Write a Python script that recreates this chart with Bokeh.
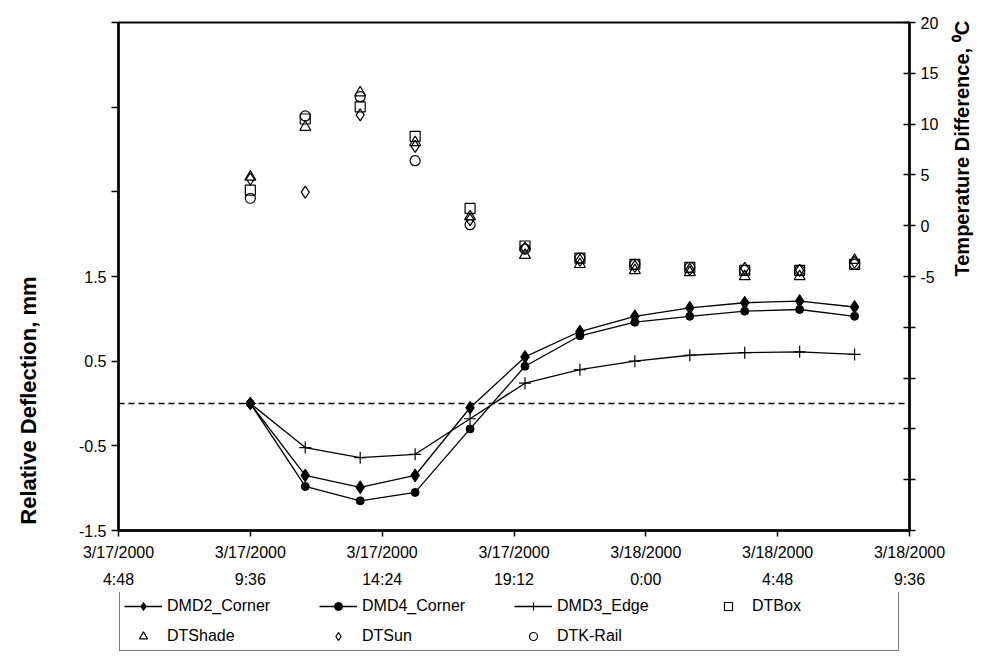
import math
import pandas as pd
from bokeh.plotting import figure
from bokeh.layouts import column
from bokeh.models import (Range1d, LinearAxis, FixedTicker, Span, Legend, LegendItem)
from bokeh.embed import file_html
from bokeh.resources import INLINE

# ---------------- data ----------------
times = ["3/17/2000 9:36", "3/17/2000 11:36", "3/17/2000 13:36", "3/17/2000 15:36",
         "3/17/2000 17:36", "3/17/2000 19:36", "3/17/2000 21:36", "3/17/2000 23:36",
         "3/18/2000 1:36", "3/18/2000 3:36", "3/18/2000 5:36", "3/18/2000 7:36"]

dmd2_corner = [0.0, -0.85, -0.99, -0.85, -0.05, 0.55, 0.85, 1.03, 1.13, 1.19, 1.21, 1.14]
dmd4_corner = [0.0, -0.98, -1.15, -1.05, -0.30, 0.44, 0.80, 0.96, 1.03, 1.09, 1.11, 1.03]
dmd3_edge = [0.0, -0.52, -0.64, -0.60, -0.18, 0.24, 0.40, 0.50, 0.57, 0.60, 0.61, 0.58]

dt_box = [3.5, 10.5, 11.7, 8.8, 1.7, -2.0, -3.2, -3.8, -4.1, -4.4, -4.4, -3.8]
dt_shade = [4.8, 9.7, 13.1, 8.2, 0.9, -2.9, -3.8, -4.4, -4.6, -5.0, -5.0, -3.4]
dt_sun = [4.6, 3.3, 10.9, 7.8, 0.6, -2.2, -3.4, -4.0, -4.3, -4.2, -4.4, -3.6]
dtk_rail = [2.7, 10.8, 12.7, 6.4, 0.1, -2.3, -3.2, -3.8, -4.1, -4.4, -4.4, -3.8]

series_names = ["DMD2_Corner", "DMD4_Corner", "DMD3_Edge", "DTBox",
                "DTShade", "DTSun", "DTK-Rail"]

x_tick_labels = ["3/17/2000\n4:48", "3/17/2000\n9:36", "3/17/2000\n14:24",
                 "3/17/2000\n19:12", "3/18/2000\n0:00", "3/18/2000\n4:48",
                 "3/18/2000\n9:36"]
x_tick_times = ["3/17/2000 4:48", "3/17/2000 9:36", "3/17/2000 14:24",
                "3/17/2000 19:12", "3/18/2000 0:00", "3/18/2000 4:48",
                "3/18/2000 9:36"]

left_ticks = [-1.5, -0.5, 0.5, 1.5, 2.5, 3.5, 4.5]
left_labels = ["-1.5", "-0.5", "0.5", "1.5", "", "", ""]
right_ticks = [-30, -25, -20, -15, -10, -5, 0, 5, 10, 15, 20]
right_labels = ["", "", "", "", "", "-5", "0", "5", "10", "15", "20"]

left_title = "Relative Deflection, mm"
right_title = "Temperature Difference, \u2070C"

# ---------------- helpers ----------------
base = pd.Timestamp("2000-03-17 00:00")


def minutes(s):
    return int((pd.to_datetime(s, format="%m/%d/%Y %H:%M") - base).total_seconds() // 60)


x = [minutes(t) for t in times]
xt = [minutes(t) for t in x_tick_times]

FONT = "Liberation Sans"

p = figure(width=998, height=592, output_backend="svg", toolbar_location=None,
           x_range=Range1d(xt[0], xt[-1]), y_range=Range1d(-1.5, 4.5),
           min_border_left=114, min_border_right=89, min_border_top=22,
           min_border_bottom=62)
p.extra_y_ranges = {"temp": Range1d(-30, 20)}

p.grid.visible = False
p.outline_line_color = "black"
p.outline_line_width = 2
p.background_fill_color = "white"
p.border_fill_color = "white"


def style_ticks(ax):
    ax.minor_tick_line_color = None
    ax.axis_line_width = 2.5
    ax.major_tick_line_width = 1.5
    ax.major_label_text_font = FONT
    ax.major_label_text_font_size = "16px"
    ax.major_label_text_color = "black"


def title_axis(text, y_range_name, bounds, standoff, size):
    ax = LinearAxis(y_range_name=y_range_name, ticker=FixedTicker(ticks=[]),
                    bounds=bounds)
    ax.axis_line_color = None
    ax.major_tick_line_color = None
    ax.minor_tick_line_color = None
    ax.axis_label = text
    ax.axis_label_text_font = FONT
    ax.axis_label_text_font_size = size
    ax.axis_label_text_font_style = "bold"
    ax.axis_label_text_color = "black"
    ax.axis_label_standoff = standoff
    ax.axis_label_orientation = math.pi / 2   # reads bottom-to-top
    return ax


# x axis
xa = p.xaxis[0]
xa.ticker = FixedTicker(ticks=xt)
xa.major_label_overrides = {t: l for t, l in zip(xt, x_tick_labels)}
style_ticks(xa)
xa.major_tick_in = 0
xa.major_tick_out = 6
xa.major_label_standoff = 7
xa.major_label_text_line_height = 1.6

# left axis
ya = p.yaxis[0]
ya.ticker = FixedTicker(ticks=left_ticks)
ya.major_label_overrides = {t: l for t, l in zip(left_ticks, left_labels)}
style_ticks(ya)
ya.major_tick_in = 0
ya.major_tick_out = 7

# right axis
ra = LinearAxis(y_range_name="temp", ticker=FixedTicker(ticks=right_ticks))
ra.major_label_overrides = {t: l for t, l in zip(right_ticks, right_labels)}
style_ticks(ra)
ra.major_tick_in = 6
ra.major_tick_out = 6
p.add_layout(ra, "right")

# axis titles (positioned along the labelled part of each axis)
p.add_layout(title_axis(left_title, "default", (-1.5, 1.4), 47, "22px"), "left")
p.add_layout(title_axis(right_title, "temp", (-5.5, 20), 20, "20px"), "right")

# zero line
p.add_layout(Span(location=0, dimension="width", line_color="black",
                  line_dash="6 4", line_width=1.5))

# styles for each series
line_style = dict(line_color="black", line_width=1.3)
styles = [
    dict(marker="diamond", size=13, color="black"),
    dict(marker="circle", size=8, color="black"),
    dict(marker="cross", size=12, line_color="black", line_width=1.2),
    dict(marker="square", size=10, line_color="black", fill_alpha=0, line_width=1.2),
    dict(marker="triangle", size=11, line_color="black", fill_alpha=0, line_width=1.2),
    dict(marker="diamond", size=12, line_color="black", fill_alpha=0, line_width=1.2),
    dict(marker="circle", size=10, line_color="black", fill_alpha=0, line_width=1.2),
]
all_series = [dmd2_corner, dmd4_corner, dmd3_edge, dt_box, dt_shade, dt_sun, dtk_rail]

# deflection series (lines + filled markers, left axis)
for vals, st in zip(all_series[:3], styles[:3]):
    p.line(x, vals, **line_style)
    p.scatter(x, vals, **st)

# temperature series (open markers, right axis)
for vals, st in zip(all_series[3:], styles[3:]):
    p.scatter(x, vals, y_range_name="temp", **st)

# ---------------- legend strip below ----------------
# same series drawn again on a strip whose ranges exclude them,
# only so the legend has renderers to draw samples from
p2 = figure(width=998, height=80, output_backend="svg", toolbar_location=None,
            x_range=Range1d(0, 1), y_range=Range1d(100, 101),
            x_axis_location=None, y_axis_location=None,
            min_border_left=114, min_border_right=89, min_border_top=0,
            min_border_bottom=0)
p2.grid.visible = False
p2.outline_line_color = None
p2.border_fill_color = "white"

items = []
for i, (name, vals, st) in enumerate(zip(series_names, all_series, styles)):
    rs = []
    if i < 3:
        rs.append(p2.line(x, vals, **line_style))
    rs.append(p2.scatter(x, vals, **st))
    items.append(LegendItem(label=name, renderers=rs))

legend = Legend(items=items, orientation="horizontal", ncols=4, location=(1, 21))
legend.label_text_font = FONT
legend.label_text_font_size = "16px"
legend.label_text_color = "black"
legend.label_standoff = 5
legend.glyph_width = 38
legend.glyph_height = 20
legend.label_width = 142
legend.label_height = 20
legend.spacing = 10
legend.padding = 4
legend.margin = 0
legend.border_line_color = "black"
legend.border_line_width = 1.5
legend.background_fill_alpha = 1
p2.add_layout(legend, "center")

open("out.html", "w").write(file_html(column(p, p2, spacing=0), INLINE))
